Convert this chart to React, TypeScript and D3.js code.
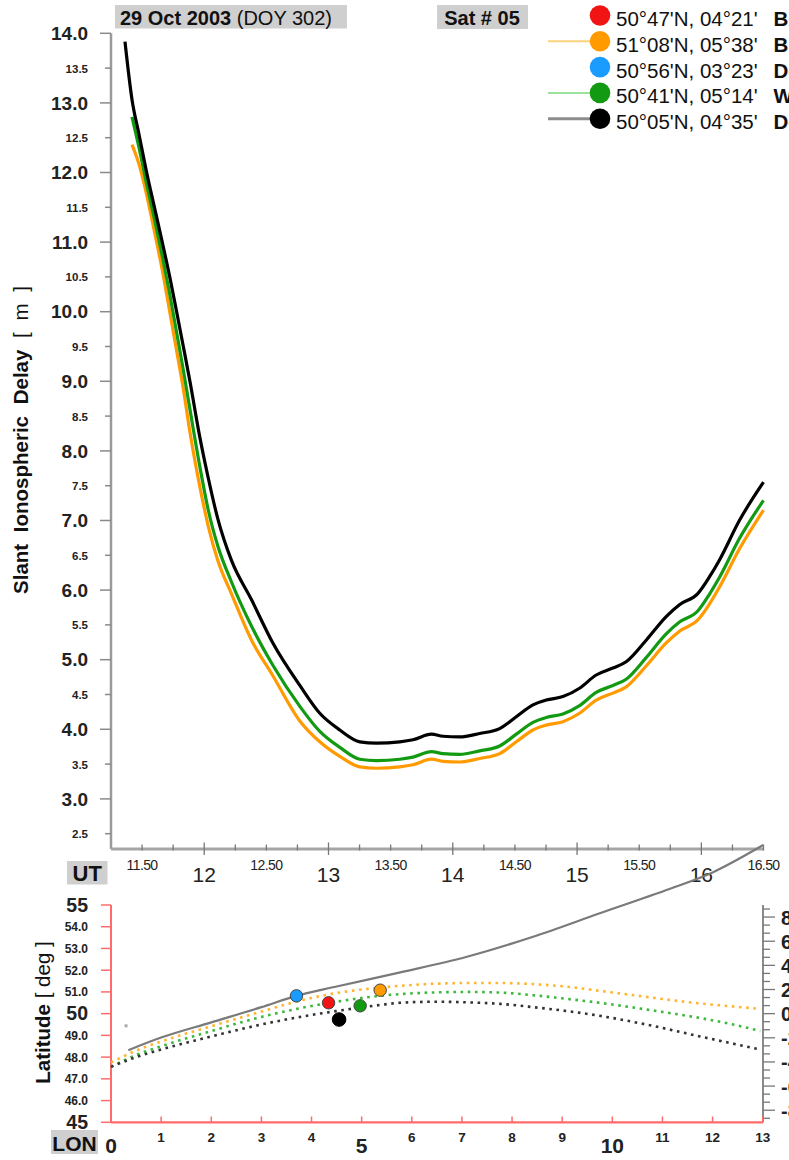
import React from 'react';
import * as d3 from 'd3';

// ---------- DATA ----------
// UT hours shared by the three delay series
const utHours = [11.3625, 11.4188, 11.4751, 11.537, 11.5997, 11.6624, 11.7227, 11.7781, 11.832, 11.885, 11.9654, 12.0338, 12.1101, 12.2186, 12.381, 12.5523, 12.7693, 12.93, 13.091, 13.252, 13.386, 13.573, 13.68, 13.828, 13.921, 14.055, 14.216, 14.377, 14.511, 14.645, 14.752, 14.886, 15.02, 15.154, 15.288, 15.395, 15.556, 15.717, 15.824, 15.971, 16.065, 16.145, 16.306, 16.5];
const delayDourbes = [13.88, 13.05, 12.55, 12.0, 11.5, 11.0, 10.5, 10.0, 9.5, 9.0, 8.19, 7.6, 7.02, 6.43, 5.86, 5.24, 4.63, 4.23, 3.99, 3.82, 3.8, 3.82, 3.85, 3.93, 3.9, 3.89, 3.94, 4.01, 4.18, 4.35, 4.42, 4.47, 4.59, 4.78, 4.88, 4.97, 5.28, 5.62, 5.79, 5.95, 6.19, 6.43, 7.0, 7.55];
const delayWaremme = [null, 12.8, 12.36, 11.83, 11.33, 10.8, 10.25, 9.7, 9.16, 8.6, 7.77, 7.14, 6.63, 6.12, 5.48, 4.92, 4.33, 3.97, 3.74, 3.57, 3.55, 3.57, 3.6, 3.68, 3.65, 3.64, 3.69, 3.76, 3.93, 4.1, 4.17, 4.22, 4.34, 4.53, 4.63, 4.72, 5.03, 5.37, 5.54, 5.7, 5.94, 6.18, 6.74, 7.29];
const delayBree = [null, 12.4, 12.12, 11.68, 11.15, 10.6, 10.0, 9.44, 8.89, 8.27, 7.48, 6.91, 6.42, 5.95, 5.28, 4.77, 4.12, 3.82, 3.61, 3.46, 3.44, 3.46, 3.49, 3.57, 3.54, 3.53, 3.58, 3.65, 3.82, 3.99, 4.06, 4.11, 4.23, 4.42, 4.52, 4.61, 4.91, 5.24, 5.41, 5.57, 5.8, 6.04, 6.59, 7.15];

// Ionospheric pierce point tracks (longitude shared)
const trackLon = [0, 0.5, 1.0, 2.0, 3.0, 3.77, 4.5, 5.37, 5.77, 6.5, 7.1, 7.76, 8.42, 9.09, 9.75, 10.42, 11.08, 11.75, 12.41, 12.95];
const trackLatBree = [47.75, 48.3, 48.72, 49.42, 50.1, 50.6, 50.95, 51.2, 51.28, 51.38, 51.41, 51.41, 51.36, 51.24, 51.05, 50.85, 50.65, 50.47, 50.33, 50.22];
const trackLatWaremme = [47.55, 48.1, 48.5, 49.2, 49.85, 50.25, 50.55, 50.82, 50.9, 50.98, 51.0, 50.97, 50.85, 50.68, 50.5, 50.28, 50.05, 49.8, 49.5, 49.2];
const trackLatDourbes = [47.55, 48.0, 48.35, 48.95, 49.5, 49.85, 50.12, 50.4, 50.5, 50.55, 50.52, 50.45, 50.3, 50.12, 49.9, 49.62, 49.3, 48.95, 48.62, 48.35];

// Satellite sub-track (grey solid line)
const satLon = [0.345, 1.0, 2.0, 3.0, 3.7, 4.5, 5.77, 7.1, 8.42, 9.75, 11.08, 12.0, 13.01];
const satLat = [48.32, 48.9, 49.6, 50.3, 50.82, 51.25, 51.9, 52.62, 53.54, 54.62, 55.69, 56.5, 57.76];

// Stations (legend + map markers)
const stationCoords = ["50°47'N, 04°21'", "51°08'N, 05°38'", "50°56'N, 03°23'", "50°41'N, 05°14'", "50°05'N, 04°35'"];
const stationNames = ['Brussels', 'Bree', 'Deinze', 'Waremme', 'Dourbes'];
const stationColors = ['#f01414', '#ff9a00', '#1a9cff', '#139a13', '#000000'];
const stationLineColors = [null, '#fcd27c', null, '#9be39b', '#8c8c8c'];
const stationLon = [4.34, 5.37, 3.7, 4.97, 4.55];
const stationLat = [50.5, 51.08, 50.82, 50.36, 49.73];

const delayTicks = d3.range(5, 29).map((k) => k / 2);
const utTicks = d3.range(46, 67).map((k) => k / 4);
const latTicks = d3.range(45, 56);
const lonTicks = d3.range(0, 14);
const rightTicks = d3.range(-13, 14).map((k) => (k * 2) / 3);

const FONT = "'Liberation Sans', Arial, Helvetica, sans-serif";

export default function App() {
  // top chart scales
  const xT = d3.scaleLinear().domain([11.25, 16.5]).range([111, 763.5]);
  const yT = d3.scaleLinear().domain([2.28, 14.0]).range([849, 33.3]);
  // map scales
  const xM = d3.scaleLinear().domain([0, 13]).range([111, 762.7]);
  const yM = d3.scaleLinear().domain([45, 55]).range([1122.3, 905]);
  const yR = d3.scaleLinear().domain([-9, 9]).range([1122.3, 905]);

  const delayLine = d3
    .line<number | null>()
    .defined((d) => d != null)
    .x((_, i) => xT(utHours[i]))
    .y((d) => yT(d as number))
    .curve(d3.curveMonotoneX);

  const trackLine = d3
    .line<number>()
    .x((_, i) => xM(trackLon[i]))
    .y((d) => yM(d))
    .curve(d3.curveMonotoneX);

  const satLine = d3
    .line<number>()
    .x((_, i) => xM(satLon[i]))
    .y((d) => yM(d))
    .curve(d3.curveMonotoneX);

  const legendY = (i: number) => 15.5 + i * 25.8;

  return (
    <svg
      width={789}
      height={1160}
      viewBox="0 0 789 1160"
      style={{ position: 'absolute', left: 0, top: 0, background: '#fff' }}
      fontFamily={FONT}
    >
      <rect x={0} y={0} width={789} height={1160} fill="#fff" />

      {/* ---------- header ---------- */}
      <rect x={115} y={5} width={232} height={23.5} fill="#cfcfcf" />
      <text x={120} y={24.5} fontSize={20} fill="#111">
        <tspan fontWeight="bold">29 Oct 2003</tspan>
        <tspan> (DOY 302)</tspan>
      </text>
      <rect x={437} y={5} width={91} height={24} fill="#cfcfcf" />
      <text x={482} y={24.5} fontSize={20} fontWeight="bold" textAnchor="middle" fill="#111">
        Sat # 05
      </text>

      {/* legend */}
      {stationCoords.map((c, i) => (
        <g key={c}>
          {stationLineColors[i] && (
            <line
              x1={548}
              x2={600}
              y1={legendY(i)}
              y2={legendY(i)}
              stroke={stationLineColors[i] as string}
              strokeWidth={i === 4 ? 3 : 2}
            />
          )}
          <circle cx={600} cy={legendY(i)} r={10.3} fill={stationColors[i]} />
          <text x={616} y={legendY(i) + 10.5} fontSize={20.5} fill="#111">
            {c}
          </text>
          <text x={773.5} y={legendY(i) + 10.5} fontSize={20.5} fontWeight="bold" fill="#111">
            {stationNames[i]}
          </text>
        </g>
      ))}

      {/* ---------- top chart axes ---------- */}
      <line x1={111} x2={111} y1={yT(14)} y2={849} stroke="#9a9a9a" strokeWidth={2.5} />
      {delayTicks.map((v) => {
        const major = Number.isInteger(v);
        const y = yT(v);
        return (
          <g key={'dt' + v}>
            <line x1={major ? 100 : 105} x2={111} y1={y} y2={y} stroke="#8a8a8a" strokeWidth={1.5} />
            <text
              x={88}
              y={y + (major ? 6.8 : 4.5)}
              fontSize={major ? 19 : 11.5}
              fontWeight="bold"
              textAnchor="end"
              fill="#222"
            >
              {v.toFixed(1)}
            </text>
          </g>
        );
      })}
      <line x1={111} x2={763.5} y1={849} y2={849} stroke="#a5a5a5" strokeWidth={3} />
      {utTicks.map((t) => {
        const major = Number.isInteger(t);
        const half = !major && Math.abs(t * 2 - Math.round(t * 2)) < 1e-6;
        const x = xT(t);
        return (
          <g key={'ut' + t}>
            <line x1={x} x2={x} y1={major ? 842.5 : 844.5} y2={major ? 855 : 850.5} stroke="#777" strokeWidth={1.3} />
            {major && (
              <text x={x} y={882} fontSize={21} textAnchor="middle" fill="#222">
                {String(t)}
              </text>
            )}
            {half && (
              <text x={x} y={870} fontSize={14} textAnchor="middle" fill="#222" letterSpacing={-0.6}>
                {t.toFixed(2)}
              </text>
            )}
          </g>
        );
      })}
      <rect x={67} y={861} width={40.5} height={23.5} fill="#cfcfcf" />
      <text x={87.2} y={881} fontSize={22} fontWeight="bold" textAnchor="middle" fill="#111">
        UT
      </text>

      <text
        transform="translate(28,440) rotate(-90)"
        fontSize={20.5}
        textAnchor="middle"
        fill="#111"
        wordSpacing={6}
      >
        <tspan fontWeight="bold">Slant Ionospheric Delay</tspan>
        <tspan> [ m ]</tspan>
      </text>

      {/* ---------- delay curves ---------- */}
      <path d={delayLine(delayBree) || ''} fill="none" stroke="#ff9a00" strokeWidth={3.2} />
      <path d={delayLine(delayWaremme) || ''} fill="none" stroke="#139a13" strokeWidth={3.2} />
      <path d={delayLine(delayDourbes) || ''} fill="none" stroke="#000" strokeWidth={3.2} />

      {/* ---------- map chart ---------- */}
      {/* right axis */}
      <line x1={763} x2={763} y1={905} y2={1122.3} stroke="#8a8a8a" strokeWidth={2} />
      {rightTicks.map((v, k) => {
        const labelled = Math.abs(v - Math.round(v)) < 1e-6 && Math.round(v) % 2 === 0;
        const y = yR(v);
        return (
          <g key={'rt' + k}>
            <line x1={763} x2={labelled ? 775 : 770} y1={y} y2={y} stroke="#777" strokeWidth={1.3} />
            {labelled && (
              <text x={781} y={y + 7.5} fontSize={20} fontWeight="bold" fill="#222">
                {String(Math.round(v))}
              </text>
            )}
          </g>
        );
      })}

      {/* left axis (red) */}
      <line x1={111} x2={111} y1={905} y2={1122.3} stroke="#ff6b6b" strokeWidth={2} />
      {latTicks.map((v) => {
        const major = v % 5 === 0;
        const y = yM(v);
        return (
          <g key={'lat' + v}>
            <line x1={101} x2={111} y1={y} y2={y} stroke="#ff6b6b" strokeWidth={1.5} />
            <text
              x={88}
              y={y + (major ? 6.8 : 4.5)}
              fontSize={major ? 19.5 : 12}
              fontWeight="bold"
              textAnchor="end"
              fill="#222"
            >
              {major ? String(v) : v.toFixed(1)}
            </text>
          </g>
        );
      })}
      <line x1={111} x2={763} y1={1122.3} y2={1122.3} stroke="#ff6b6b" strokeWidth={2.2} />
      {lonTicks.map((v) => {
        const major = v % 5 === 0;
        const x = xM(v);
        return (
          <g key={'lon' + v}>
            <line x1={x} x2={x} y1={1116.5} y2={1122.3} stroke="#ff6b6b" strokeWidth={1.5} />
            <text
              x={x}
              y={major ? 1153 : 1142}
              fontSize={major ? 21 : 13.5}
              fontWeight="bold"
              textAnchor="middle"
              fill="#222"
            >
              {String(v)}
            </text>
          </g>
        );
      })}
      <rect x={51} y={1130} width={47} height={24} fill="#cfcfcf" />
      <text x={74.5} y={1150.5} fontSize={21} fontWeight="bold" textAnchor="middle" fill="#111">
        LON
      </text>

      <text transform="translate(50,1012.5) rotate(-90)" fontSize={20.5} textAnchor="middle" fill="#111">
        <tspan fontWeight="bold">Latitude</tspan>
        <tspan> [ deg ]</tspan>
      </text>

      {/* tracks */}
      <path d={trackLine(trackLatBree) || ''} fill="none" stroke="#ffb52e" strokeWidth={2.6} strokeDasharray="2.6 4.6" />
      <path d={trackLine(trackLatWaremme) || ''} fill="none" stroke="#3cb83c" strokeWidth={2.6} strokeDasharray="2.6 4.6" />
      <path d={trackLine(trackLatDourbes) || ''} fill="none" stroke="#333" strokeWidth={2.6} strokeDasharray="2.6 4.6" />
      <path d={satLine(satLat) || ''} fill="none" stroke="#7a7a7a" strokeWidth={2.2} />
      <rect x={xM(0.3) - 1.5} y={yM(49.44) - 1.5} width={3} height={3} fill="#aaa" />

      {stationLon.map((lon, i) => (
        <circle
          key={'st' + i}
          cx={xM(lon)}
          cy={yM(stationLat[i])}
          r={i === 4 ? 6.8 : 6.2}
          fill={stationColors[i]}
          stroke={i === 4 ? '#000' : '#444'}
          strokeWidth={1}
        />
      ))}
    </svg>
  );
}
